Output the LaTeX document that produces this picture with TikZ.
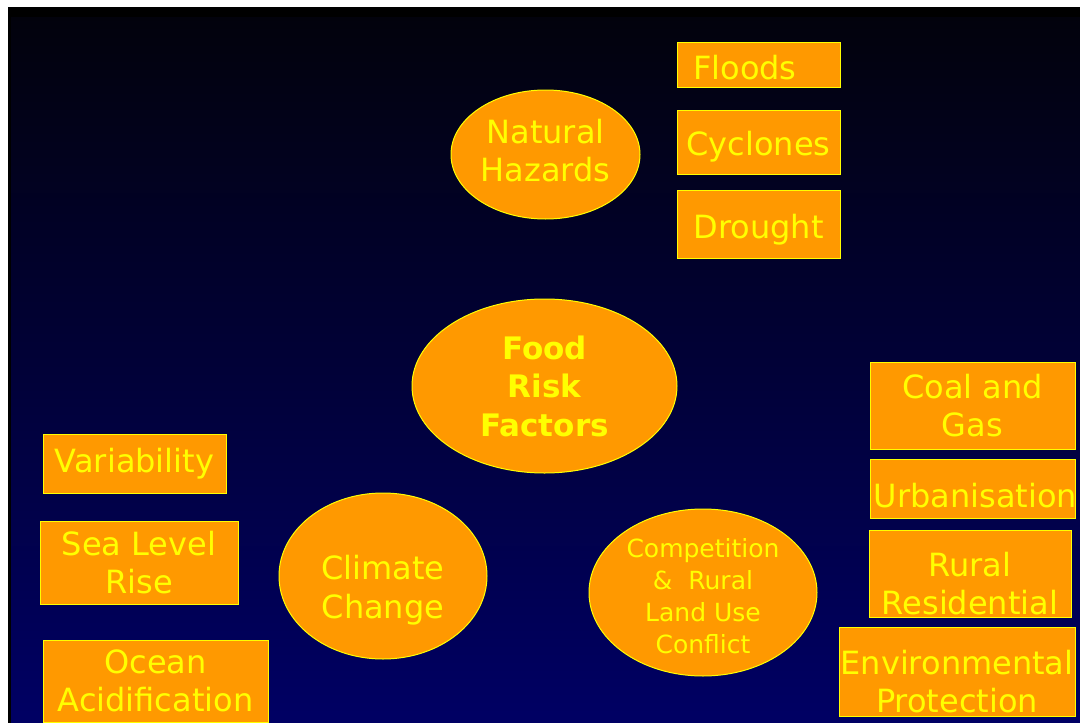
\documentclass[tikz,border=0pt]{standalone}
\usepackage{fontspec}
\setmainfont{DejaVu Sans}
\usetikzlibrary{shapes.geometric}
\definecolor{orng}{RGB}{255,153,0}
\definecolor{yel}{RGB}{255,255,0}
\definecolor{bgtop}{RGB}{2,2,12}
\definecolor{bgbot}{RGB}{0,0,100}
\begin{document}
\begin{tikzpicture}[x=1pt,y=-1pt,
  shapebase/.style={draw=yel, line width=1pt, fill=orng, text=yel, inner sep=0pt, align=center, font=\fontsize{32}{38.4}\selectfont},
  boxnode/.style={shapebase, rectangle},
  ellnode/.style={shapebase, ellipse},
  txt/.style={text=yel, inner sep=0pt, align=center, font=\fontsize{32}{38.4}\selectfont}]
\useasboundingbox (0,0) rectangle (1080,723);
\fill[white] (0,0) rectangle (1080,723);
\fill[black] (8,7) rectangle (1080,723);
\shade[top color=bgtop, bottom color=bgbot] (11,17) rectangle (1080,723);

% Natural hazards group
\node[boxnode, minimum width=163pt, minimum height=45pt] (fl) at (758.5,64.5) {};
\node[txt, anchor=west] (flt) at ([xshift=-65.5pt,yshift=-3pt]fl.center) {Floods};
\node[boxnode, minimum width=163pt, minimum height=64pt] (cy) at (758.5,142) {};
\node[txt] (cyt) at ([yshift=-5pt]cy.center) {Cyclones};
\node[boxnode, minimum width=163pt, minimum height=68pt] (dr) at (758.5,224) {};
\node[txt] (drt) at ([yshift=-6pt]dr.center) {Drought};
\node[ellnode, minimum width=189pt, minimum height=129pt] (nh) at (545.5,154.5) {};
\node[txt] (nht) at ([yshift=4pt]nh.center) {Natural\\Hazards};

% centre
\node[ellnode, minimum width=265pt, minimum height=174pt, font=\fontsize{31}{38.5}\selectfont\bfseries] (food) at (544.5,386) {Food\\Risk\\Factors};

% climate change group
\node[boxnode, minimum width=183pt, minimum height=59pt] (var) at (134.5,463.5) {Variability};
\node[boxnode, minimum width=198pt, minimum height=83pt] (slr) at (139,562.5) {Sea Level\\Rise};
\node[boxnode, minimum width=225pt, minimum height=82pt] (oa) at (155.5,681) {Ocean\\Acidification};
\node[ellnode, minimum width=208pt, minimum height=166pt] (cc) at (383,576) {};
\node[txt] (cct) at ([yshift=-14pt]cc.center) {Climate\\Change};

% competition group
\node[ellnode, minimum width=228pt, minimum height=167pt] (comp) at (703,592.5) {};
\node[txt, font=\fontsize{25}{32}\selectfont] (compt) at ([yshift=-4pt]comp.center) {Competition\\\&~~Rural\\Land Use\\Conflict};
\node[boxnode, minimum width=205pt, minimum height=87pt] (coal) at (972.5,405.5) {Coal and\\Gas};
\node[boxnode, minimum width=205pt, minimum height=59pt] (urb) at (972.5,488.5) {};
\node[txt] (urbt) at ([xshift=3pt,yshift=-7pt]urb.center) {Urbanisation};
\node[boxnode, minimum width=202pt, minimum height=87pt] (rr) at (970,573.5) {};
\node[txt] (rrt) at ([yshift=-10pt]rr.center) {Rural\\Residential};
\node[boxnode, minimum width=236pt, minimum height=89pt] (env) at (957,671.5) {};
\node[txt] (envt) at ([yshift=-10pt]env.center) {Environmental\\Protection};
\end{tikzpicture}
\end{document}
